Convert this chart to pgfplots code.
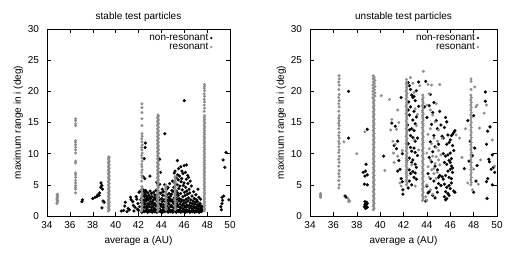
\documentclass[border=0pt]{standalone}
\usepackage{fontspec}
\setmainfont{Liberation Sans}
\usepackage{pgfplots}
\pgfplotsset{compat=1.18}
\definecolor{resgray}{RGB}{140,140,140}
\pgfplotsset{
  myax/.style={
    scale only axis, height=187pt,
    xmin=34, xmax=50, ymin=0, ymax=30,
    xtick={34,36,...,50}, ytick={0,5,...,30},
    tick align=inside, major tick length=4pt,
    tick style={black, line width=0.5pt},
    axis line style={line width=0.6pt},
    font=\fontsize{10}{11}\selectfont,
    /pgf/number format/assume math mode=true,
    xticklabel style={yshift=-2pt},
    yticklabel style={xshift=-4.5pt},
    xlabel={average a (AU)}, ylabel={maximum range in i (deg)},
    xlabel style={yshift=-1pt},
    ylabel style={yshift=-2pt},
    title style={yshift=-2pt},
    legend style={draw=none, fill=none, font=\fontsize{10}{11}\selectfont, at={(0.91,0.99)}, anchor=north east, row sep=-3pt, inner sep=1pt},
    legend cell align=right, legend plot pos=right,
    clip=false,
  },
  legimg/.style={legend image code/.code={\draw[mark repeat=2,mark phase=2,mark size=1pt] plot coordinates {(0cm,0cm)(0.55cm,0cm)(0.6cm,0cm)};}},
  nonres/.style={only marks, mark=*, mark size=1.5pt, mark options={solid, draw=black, fill=black, line width=0.2pt}, legimg},
  res/.style={only marks, mark=*, mark size=1.4pt, mark options={solid, draw=resgray, fill=resgray, line width=0.2pt}, legimg},
}
\begin{document}
\begin{tikzpicture}
\useasboundingbox (0,0) rectangle (521pt,254pt);
% ---------------- stable ----------------
\begin{axis}[myax, at={(47pt,38pt)}, anchor=south west, width=183pt, title={stable test particles}]
\addplot[nonres] coordinates {
(37.05,2.3)(37.1,2.6)(38.0,2.8)(38.2,3.0)(38.35,3.1)(38.45,3.4)(38.55,3.3)(38.6,3.7)(38.7,4.6)(38.72,5.3)(38.8,4.9)(38.85,4.3)(38.9,2.4)(38.8,1.3)(39.0,2.2)
(40.5,0.8)(40.7,0.9)(40.8,1.6)(40.85,2.2)(41.0,0.7)(41.1,1.2)(41.2,1.0)(41.3,3.0)(41.35,2.6)(41.5,2.3)(41.55,1.7)(41.6,0.8)(41.7,1.4)(41.8,3.1)(41.85,2.7)(41.9,1.1)(41.95,2.0)(42.0,0.9)(42.05,3.8)(42.1,1.5)(42.15,4.0)(42.2,2.6)
(42.3,0.6)(42.33,1.3)(42.27,2.1)(42.32,3.0)(42.28,3.9)
(42.42,0.9)(42.37,1.7)(42.44,2.5)(42.38,3.4)(42.41,4.2)(42.4,6.3)
(42.5,0.7)(42.53,1.4)(42.47,2.2)(42.52,3.1)(42.48,3.8)(42.5,9.2)
(42.55,6.0)(42.58,11.0)(42.6,11.7)
(42.63,0.8)(42.57,1.9)(42.62,2.7)(42.58,3.5)(42.61,4.1)
(42.7,1.1)(42.74,1.6)(42.67,2.4)(42.72,3.2)(42.68,3.9)
(42.8,0.6)(42.77,1.3)(42.83,2.0)(42.78,2.9)(42.82,3.7)
(42.9,0.9)(42.93,1.8)(42.87,2.6)(42.92,3.3)
(43.0,0.7)(42.97,1.5)(43.03,2.3)(42.98,3.0)(43.02,4.0)(43.0,6.4)
(43.1,1.0)(43.13,1.9)(43.07,2.8)(43.12,3.6)
(43.2,0.6)(43.17,1.4)(43.23,2.2)(43.18,3.1)
(43.3,0.9)(43.33,1.7)(43.27,2.5)(43.32,3.8)
(43.4,0.7)(43.37,1.2)(43.43,2.0)(43.38,2.9)(43.42,3.4)
(43.5,1.0)(43.53,1.8)(43.47,2.7)(43.52,4.1)
(43.6,0.6)(43.57,1.5)(43.63,2.4)(43.58,3.2)(43.6,5.4)
(43.75,0.8)(43.78,2.0)(43.75,3.0)
(43.85,1.1)(43.82,2.6)(43.87,3.6)(43.85,9.1)(43.85,5.1)
(43.9,0.7)(43.93,1.6)(43.92,7.0)
(44.0,0.9)(43.97,1.9)(44.03,2.8)(43.98,3.7)
(44.1,0.6)(44.13,1.4)(44.07,2.3)(44.12,3.3)(44.08,4.3)
(44.2,1.0)(44.17,1.8)(44.23,2.6)(44.18,3.9)
(44.3,0.7)(44.33,1.5)(44.27,2.4)(44.3,13.2)(44.3,5.0)
(44.4,1.1)(44.43,2.1)(44.37,3.2)
(44.5,0.8)(44.47,1.6)(44.53,2.5)(44.48,3.4)(44.52,4.4)
(44.6,0.6)(44.63,1.3)(44.57,2.2)(44.62,3.0)(44.58,4.6)
(44.7,1.0)(44.67,1.9)(44.73,2.7)(44.68,3.6)(44.72,5.2)
(44.8,0.7)(44.83,1.5)(44.77,2.4)(44.82,3.2)
(44.9,0.9)(44.87,1.7)(44.93,2.6)(44.88,3.5)(44.92,4.1)
(45.0,0.6)(45.03,1.4)(44.97,2.3)(45.02,3.9)(44.98,5.6)
(45.1,1.0)(45.07,2.0)(45.13,2.9)(45.08,4.6)(45.12,6.9)
(45.2,0.8)(45.23,1.6)(45.17,2.5)(45.22,3.4)(45.18,5.3)(45.2,7.2)
(45.3,0.6)(45.27,1.3)(45.33,2.1)(45.28,3.0)(45.32,4.0)(45.3,6.1)
(45.4,0.9)(45.43,1.8)(45.37,2.7)(45.42,3.7)(45.38,5.0)(45.4,8.9)(45.42,6.6)
(45.5,0.7)(45.47,1.5)(45.53,2.4)(45.48,3.3)(45.52,4.4)(45.48,5.8)(45.5,7.6)
(45.6,1.0)(45.63,1.9)(45.57,2.8)(45.62,4.8)(45.58,6.4)
(45.7,0.6)(45.67,1.4)(45.73,2.3)(45.68,3.6)(45.72,5.5)(45.7,7.9)
(45.8,0.8)(45.83,1.7)(45.77,2.6)(45.82,4.2)(45.78,6.0)(45.8,7.2)
(45.9,0.7)(45.87,1.2)(45.93,2.0)(45.88,3.1)(45.92,4.9)(45.9,6.8)
(46.0,0.9)(46.03,1.6)(45.97,2.5)(46.02,3.8)(45.98,5.3)(46.0,8.1)(46.0,18.5)
(46.1,0.6)(46.07,1.4)(46.13,2.2)(46.08,3.3)(46.12,4.6)(46.1,7.0)
(46.2,1.0)(46.23,1.8)(46.17,2.7)(46.22,4.0)(46.18,5.9)(46.2,8.2)
(46.3,0.7)(46.27,1.5)(46.33,2.4)(46.28,3.5)(46.32,5.2)(46.3,6.5)
(46.4,0.9)(46.43,1.7)(46.37,2.9)(46.42,4.3)(46.38,6.2)
(46.5,0.6)(46.47,1.3)(46.53,2.1)(46.48,3.7)(46.52,5.6)
(46.6,0.8)(46.63,1.6)(46.57,2.6)(46.62,4.8)
(46.7,0.7)(46.67,1.2)(46.73,2.0)(46.68,3.2)
(46.8,0.9)(46.83,1.5)(46.77,2.4)(46.82,3.9)
(46.9,0.6)(46.87,1.3)(46.93,1.9)(46.88,2.8)
(47.0,0.8)(47.03,1.4)(46.97,2.2)(47.02,3.4)
(47.1,0.7)(47.07,1.2)(47.13,1.8)(47.08,2.6)
(47.2,0.9)(47.23,1.5)(47.17,2.3)(47.2,4.3)
(47.3,0.6)(47.27,1.1)(47.33,1.7)(47.28,3.0)
(47.4,0.8)(47.43,1.3)(47.37,2.0)(47.42,2.7)
(47.5,0.7)(47.47,1.0)(47.53,1.6)
(47.6,0.9)(47.57,1.4)
(49.25,1.0)(49.2,1.5)(49.3,2.0)(49.35,2.5)(49.3,3.0)(49.45,3.2)(49.4,9.0)(49.55,7.8)(49.65,10.2)(49.9,2.6)
};
\addlegendentry{non-resonant}
\addplot[res] coordinates {
(34.86,2.0)(34.92,2.2)(34.88,2.4)(34.94,2.5)(34.86,2.7)(34.92,2.9)(34.88,3.0)(34.94,3.2)(34.88,3.4)(34.92,3.5)
(36.5,3.7)(36.5,4.3)(36.5,4.6)(36.5,4.9)(36.5,5.3)(36.5,5.7)(36.5,6.2)(36.5,6.6)(36.5,6.9)(36.5,8.5)(36.5,8.8)(36.5,10.1)(36.5,10.6)(36.5,11.0)(36.5,11.4)(36.5,11.8)(36.5,12.1)(36.5,14.5)(36.5,14.8)(36.5,15.3)(36.5,15.6)
(39.36,0.8)(39.44,1.0)(39.40,1.2)(39.36,1.4)(39.44,1.6)(39.40,1.8)(39.36,2.0)(39.44,2.2)(39.40,2.4)(39.36,2.6)(39.44,2.8)(39.40,3.0)(39.36,3.2)(39.44,3.4)(39.40,3.6)(39.36,3.8)(39.44,4.0)(39.40,4.2)(39.36,4.4)(39.44,4.6)(39.40,4.8)(39.36,5.0)(39.44,5.2)(39.40,5.4)(39.36,5.6)(39.44,5.8)(39.40,6.0)(39.36,6.2)(39.44,6.4)(39.40,6.6)(39.36,6.8)(39.44,7.0)(39.40,7.2)(39.36,7.4)(39.44,7.6)(39.40,7.8)(39.36,8.0)(39.44,8.2)(39.40,8.4)(39.36,8.6)(39.44,8.8)(39.40,9.0)(39.36,9.2)(39.44,9.4)(39.40,9.5)
(42.28,0.8)(42.32,1.1)(42.26,1.4)(42.34,1.7)(42.28,2.0)(42.32,2.3)(42.26,2.6)(42.34,2.9)(42.28,3.2)(42.32,3.5)(42.30,3.8)(42.28,4.1)(42.32,4.4)(42.30,4.7)(42.28,5.6)(42.32,6.2)(42.30,6.5)(42.28,7.0)(42.32,7.4)(42.30,7.9)(42.28,8.3)(42.32,8.8)(42.30,9.3)(42.28,9.7)(42.32,10.1)(42.30,10.6)(42.28,11.0)(42.32,11.4)(42.30,11.9)(42.28,12.4)(42.32,12.8)(42.30,13.2)(42.30,14.5)(42.30,15.6)(42.30,16.6)(42.30,17.4)(42.30,18.0)
(43.66,0.8)(43.74,1.0)(43.70,1.2)(43.66,1.4)(43.74,1.6)(43.70,1.8)(43.66,2.0)(43.74,2.2)(43.70,2.4)(43.66,2.6)(43.74,2.8)(43.70,3.0)(43.66,3.2)(43.74,3.4)(43.70,3.6)(43.66,3.8)(43.74,4.0)(43.70,4.2)(43.66,4.4)(43.74,4.6)(43.70,4.8)(43.66,5.0)(43.74,5.2)(43.70,5.4)(43.66,5.6)(43.74,5.8)(43.70,6.0)(43.66,6.2)(43.74,6.4)(43.70,6.6)(43.66,6.8)(43.74,7.0)(43.70,7.2)(43.66,7.4)(43.74,7.6)(43.70,7.8)(43.66,8.0)(43.74,8.2)(43.70,8.4)(43.66,8.6)(43.74,8.8)(43.70,9.0)(43.66,9.2)(43.74,9.4)(43.70,9.6)(43.66,9.8)(43.74,10.0)(43.70,10.2)(43.66,10.4)(43.74,10.6)(43.70,10.8)(43.66,11.0)(43.74,11.2)(43.70,11.4)(43.66,11.6)(43.74,11.8)(43.70,12.0)(43.66,12.2)(43.74,12.4)(43.70,12.6)(43.66,12.8)(43.74,13.0)(43.70,13.2)(43.66,13.4)(43.74,13.6)(43.70,13.8)(43.66,14.0)(43.74,14.2)(43.70,14.4)(43.66,14.6)(43.74,14.8)(43.70,15.0)(43.66,15.2)(43.74,15.4)(43.70,15.6)(43.66,15.8)(43.74,16.0)(43.70,16.2)
(44.4,1.0)(44.42,1.3)(44.38,1.6)(44.4,1.9)(44.42,2.2)(44.38,2.5)(44.4,2.8)(44.42,3.1)(44.38,3.4)(44.4,3.7)(44.42,4.0)(44.38,4.3)(44.4,4.6)(44.4,4.9)
(45.2,1.0)(45.22,1.3)(45.18,1.6)(45.2,1.9)(45.22,2.2)(45.18,2.5)(45.2,2.8)(45.22,3.1)(45.18,3.4)(45.2,3.7)(45.22,4.0)(45.18,4.3)(45.2,4.6)(45.22,4.9)(45.18,5.2)(45.2,5.5)(45.22,5.8)(45.2,6.1)(45.2,6.3)
(47.74,0.8)(47.78,1.1)(47.74,1.4)(47.78,1.7)(47.74,2.0)(47.78,2.3)(47.74,2.6)(47.78,2.9)(47.74,3.2)(47.78,3.5)(47.74,3.8)(47.78,4.1)(47.74,4.4)(47.78,4.7)(47.74,5.0)(47.78,5.3)(47.74,5.6)(47.78,5.9)(47.74,6.2)(47.78,6.5)(47.74,6.8)(47.78,7.1)(47.74,7.4)(47.78,7.7)(47.74,8.0)(47.78,8.3)(47.74,8.6)(47.78,8.9)(47.74,9.2)(47.78,9.5)(47.74,9.8)(47.78,10.1)(47.74,10.4)(47.78,10.7)(47.74,11.0)(47.78,11.3)(47.74,11.6)(47.78,11.9)(47.74,12.2)(47.78,12.5)(47.74,12.8)(47.78,13.1)(47.74,13.4)(47.78,13.7)(47.74,14.0)(47.78,14.3)(47.74,14.6)(47.78,14.9)(47.74,15.2)(47.78,15.5)(47.74,15.8)(47.78,16.1)(47.74,16.8)(47.78,17.3)(47.74,17.8)(47.78,18.3)(47.74,18.7)(47.78,19.2)(47.74,19.6)(47.78,20.1)(47.74,20.5)(47.78,20.8)(47.76,21.1)
};
\addlegendentry{resonant}
\end{axis}
% ---------------- unstable ----------------
\begin{axis}[myax, at={(310pt,38pt)}, anchor=south west, width=187pt, title={unstable test particles}]
\addplot[nonres] coordinates {
(37.0,3.2)(37.1,3.0)(37.3,20.0)(37.3,12.5)
(38.65,1.5)(38.7,1.8)(38.75,2.0)(38.8,1.6)(38.85,2.2)(38.9,1.4)(38.7,2.3)(38.8,1.9)(38.9,2.0)(38.75,1.2)
(38.65,5.1)(38.9,5.0)(38.7,6.4)(38.9,6.6)(38.75,7.2)(38.8,8.3)(38.9,13.9)(38.55,7.0)
(40.3,9.6)
(41.0,14.9)(41.3,14.4)(41.2,11.3)(41.4,10.8)(41.5,12.0)(41.7,7.5)(41.8,6.0)(41.9,5.5)(41.95,4.2)(41.95,3.5)(41.8,19.0)(41.6,8.9)(41.9,10.0)(41.5,7.2)
(42.4,21.4)(42.5,20.9)(42.6,20.3)(42.7,19.4)(42.8,19.0)(42.9,19.2)(43.0,18.5)(43.1,20.1)(43.3,21.5)
(42.4,17.0)(42.5,16.2)(42.6,17.5)(42.8,15.4)(42.9,16.8)(43.0,14.8)(43.1,15.9)(42.7,14.0)(42.5,13.8)(42.6,12.9)(42.8,12.6)(42.9,13.7)(43.0,12.0)(43.2,12.5)(42.4,11.6)(42.6,11.0)(42.7,10.4)(42.9,10.9)(43.0,10.2)(43.2,9.7)(42.5,9.3)(42.7,8.6)(42.8,9.0)(43.0,8.3)(43.1,7.8)(42.5,7.4)(42.6,6.8)(42.8,7.1)(42.9,6.2)(43.1,5.9)(42.5,5.6)(42.7,5.0)(42.4,4.5)(43.0,6.9)(42.35,14.6)(42.45,18.3)(43.3,17.6)(42.3,8.9)
(43.9,21.6)(43.8,17.5)(44.3,19.5)(44.6,18.2)(44.2,17.7)(44.5,16.6)(44.0,15.8)(44.8,15.3)(44.4,14.7)(44.9,14.0)(45.1,16.8)(45.0,11.5)(44.6,12.9)(44.3,11.9)(44.7,11.1)(44.5,10.3)(44.2,9.4)(44.4,8.7)(44.7,8.0)(44.9,7.4)(44.1,6.8)(44.3,6.0)(44.6,5.6)(44.0,4.8)(44.2,3.9)(44.5,3.3)(44.8,4.5)(43.9,2.4)(44.1,3.7)(44.7,2.9)(45.0,5.2)(44.9,3.8)(45.0,6.2)
(45.4,12.5)(45.6,15.8)(45.7,15.1)(45.5,14.2)(45.8,13.0)(46.0,12.2)(46.1,12.9)(46.2,13.1)(46.3,13.4)(46.4,13.7)(45.9,11.8)(45.4,10.0)(45.6,9.6)(45.8,9.8)(46.0,10.1)(46.1,9.2)(45.5,8.6)(45.7,8.3)(45.9,8.9)(46.1,8.0)(46.0,7.5)(45.8,7.2)(46.2,7.0)(45.6,6.5)(45.9,6.2)(46.1,6.0)(45.3,6.3)(45.4,5.9)(45.5,5.1)(45.7,4.6)(45.9,4.9)(46.1,5.3)(46.3,4.0)(46.4,3.8)(45.6,3.9)(45.8,3.6)(45.5,3.1)(45.7,2.8)(45.9,3.3)(45.6,2.6)(46.0,4.4)(45.3,12.8)(46.2,11.3)(46.2,7.7)(46.0,8.6)(45.7,11.5)(45.2,4.9)(45.1,6.5)(45.2,14.6)(46.3,10.5)
(47.2,7.6)(47.5,15.3)(47.6,8.8)(47.9,9.7)(48.0,3.8)(48.2,5.6)(48.3,8.1)(47.7,12.0)(48.0,16.1)(48.1,10.9)
(49.0,19.9)(49.0,18.4)(49.1,11.5)(49.2,13.6)(49.4,14.3)(49.3,9.1)(49.35,8.7)(49.6,9.8)(49.7,7.8)(49.8,7.0)(49.1,5.5)(49.2,6.0)(49.15,2.8)(49.5,7.5)(49.6,5.0)
};
\addlegendentry{non-resonant}
\addplot[res] coordinates {
(34.9,3.0)(34.9,3.2)(34.9,3.4)(34.9,3.6)
(36.46,4.5)(36.5,5.0)(36.46,5.7)(36.5,6.3)(36.46,6.8)(36.5,7.3)(36.46,8.0)(36.5,8.6)(36.46,9.1)(36.5,9.6)(36.46,10.2)(36.5,10.6)(36.46,11.1)(36.5,11.6)(36.46,12.0)(36.5,12.5)(36.46,12.9)(36.5,13.4)(36.46,14.0)(36.5,14.5)(36.46,14.9)(36.5,15.3)(36.46,15.7)(36.5,16.1)(36.46,16.8)(36.5,17.5)(36.46,18.0)(36.5,18.5)(36.46,19.0)(36.5,19.5)(36.46,20.3)(36.5,21.0)(36.46,21.5)(36.5,22.0)(36.48,22.5)
(37.3,2.3)(37.35,2.5)(37.25,2.8)(37.4,2.4)(36.9,11.9)(38.7,13.5)(38.0,10.0)
(39.42,1.0)(39.48,1.25)(39.45,1.5)(39.42,1.75)(39.48,2.0)(39.45,2.25)(39.42,2.5)(39.48,2.75)(39.45,3.0)(39.42,3.25)(39.48,3.5)(39.45,3.75)(39.42,4.0)(39.48,4.25)(39.45,4.5)(39.42,4.75)(39.48,5.0)(39.45,5.25)(39.42,5.5)(39.48,5.75)(39.45,6.0)(39.42,6.25)(39.48,6.5)(39.45,6.75)(39.42,7.0)(39.48,7.25)(39.45,7.5)(39.42,7.75)(39.48,8.0)(39.45,8.25)(39.42,8.5)(39.48,8.75)(39.45,9.0)(39.42,9.25)(39.48,9.5)(39.45,9.75)(39.42,10.0)(39.48,10.25)(39.45,10.5)(39.42,10.75)(39.48,11.0)(39.45,11.25)(39.42,11.5)(39.48,11.75)(39.45,12.0)(39.42,12.25)(39.48,12.5)(39.45,12.75)(39.42,13.0)(39.48,13.25)(39.45,13.5)(39.42,13.75)(39.48,14.0)(39.45,14.25)(39.42,14.5)(39.48,14.75)(39.45,15.0)(39.42,15.25)(39.48,15.5)(39.45,15.75)(39.42,16.0)(39.48,16.25)(39.45,16.5)(39.42,16.75)(39.48,17.0)(39.45,17.25)(39.42,17.5)(39.48,17.75)(39.45,18.0)(39.42,18.25)(39.48,18.5)(39.45,18.75)(39.38,19.0)(39.55,19.25)(39.4,19.5)(39.55,19.75)(39.38,20.0)(39.52,20.25)(39.4,20.5)(39.55,20.75)(39.38,21.0)(39.52,21.25)(39.42,21.5)(39.55,21.75)(39.4,22.0)(39.5,22.2)(39.4,22.5)
(40.1,19.3)(40.4,7.3)(40.8,18.7)(41.0,15.5)(41.1,12.0)(41.15,10.1)(41.2,8.6)(41.4,13.9)(41.5,9.6)(41.5,17.0)(41.6,15.0)(41.7,5.3)(41.8,4.8)(41.9,10.5)(41.3,11.5)(40.9,13.8)
(42.25,5.0)(42.3,5.3)(42.22,5.6)(42.28,5.9)(42.25,6.2)(42.3,6.5)(42.22,6.8)(42.28,7.1)(42.25,7.4)(42.3,7.7)(42.22,8.0)(42.28,8.3)(42.25,8.6)(42.3,8.9)(42.22,9.2)(42.28,9.5)(42.25,9.8)(42.3,10.1)(42.22,10.4)(42.28,10.7)(42.25,11.0)(42.3,11.3)(42.22,11.6)(42.28,11.9)(42.25,12.2)(42.3,12.5)(42.22,12.8)(42.28,13.1)(42.25,13.4)(42.3,13.7)(42.22,14.0)(42.28,14.3)(42.25,14.6)(42.3,14.9)(42.22,15.2)(42.28,15.5)(42.25,15.8)(42.3,16.1)(42.22,16.4)(42.28,16.7)(42.25,17.0)(42.3,17.3)(42.22,17.6)(42.28,17.9)(42.25,18.2)(42.3,18.5)(42.22,18.8)(42.28,19.1)(42.25,19.4)(42.3,19.7)(42.22,20.0)(42.28,20.3)(42.25,20.6)(42.3,20.9)(42.22,21.2)(42.28,21.5)(42.25,21.9)
(42.6,22.2)(42.8,21.3)(43.0,17.2)(43.2,16.3)(43.1,14.5)(42.9,12.3)(43.3,10.6)(42.9,19.8)(43.4,20.9)(43.0,4.8)(42.7,8.2)
(43.62,2.5)(43.68,2.8)(43.65,3.1)(43.62,3.4)(43.68,3.7)(43.65,4.0)(43.62,4.3)(43.68,4.6)(43.65,4.9)(43.62,5.2)(43.68,5.5)(43.65,5.8)(43.62,6.1)(43.68,6.4)(43.65,6.7)(43.62,7.0)(43.68,7.3)(43.65,7.6)(43.62,7.9)(43.68,8.2)(43.65,8.5)(43.62,8.8)(43.68,9.1)(43.65,9.4)(43.62,9.7)(43.68,10.0)(43.65,10.3)(43.62,10.6)(43.68,10.9)(43.65,11.2)(43.62,11.5)(43.68,11.8)(43.65,12.1)(43.62,12.4)(43.68,12.7)(43.65,13.0)(43.62,13.3)(43.68,13.6)(43.65,13.9)(43.62,14.2)(43.68,14.5)(43.65,14.8)(43.62,15.1)(43.68,15.4)(43.65,15.7)(43.62,16.0)(43.68,16.3)(43.65,16.6)(43.62,16.9)(43.68,17.2)(43.65,17.5)(43.62,17.8)(43.68,18.1)(43.65,18.4)(43.62,18.7)(43.68,19.0)(43.65,19.4)
(43.7,23.2)(44.1,21.1)(44.4,21.0)(45.1,21.1)(44.2,19.6)(44.0,17.8)(44.3,17.0)(44.5,16.2)(44.7,15.1)(44.3,14.0)(44.1,13.1)(44.6,12.5)(44.4,11.6)(44.2,10.8)(44.0,10.1)(44.5,9.6)(44.3,9.0)(44.7,8.4)(44.1,7.9)(44.4,7.4)(44.6,6.8)(44.2,6.2)(44.0,5.0)(44.3,4.2)(44.5,3.5)(44.8,11.0)(45.0,9.0)(44.9,7.0)(45.1,8.2)(45.3,12.5)(45.0,13.8)(44.8,18.0)(44.0,2.5)(43.9,3.1)(44.8,9.5)(45.0,10.5)(44.9,12.0)(45.2,9.8)(44.6,7.6)(44.8,6.0)
(47.76,5.0)(47.8,5.4)(47.76,5.8)(47.8,6.2)(47.76,6.6)(47.8,7.0)(47.76,7.4)(47.8,7.8)(47.76,8.2)(47.8,8.6)(47.76,9.0)(47.8,9.4)(47.76,9.8)(47.8,10.2)(47.76,10.6)(47.8,11.0)(47.76,11.4)(47.8,11.8)(47.76,12.2)(47.8,12.6)(47.76,13.0)(47.8,13.4)(47.76,13.8)(47.8,14.2)(47.76,14.6)(47.8,15.0)(47.76,15.4)(47.8,15.8)(47.76,16.2)(47.8,16.6)(47.76,17.0)(47.8,17.4)(47.76,17.8)(47.8,18.2)(47.76,18.6)(47.8,19.0)(47.76,19.4)(47.78,20.3)(47.78,21.6)(47.78,22.0)
(46.8,12.5)(47.3,14.0)(48.1,20.7)(48.3,17.8)(48.2,17.5)(48.5,14.1)(48.9,16.5)(49.1,17.8)(49.6,12.2)(49.8,8.0)(48.4,5.1)(47.9,4.2)(47.5,5.3)(48.0,7.5)(48.6,9.0)(46.5,13.0)(47.0,9.4)
};
\addlegendentry{resonant}
\end{axis}
\end{tikzpicture}
\end{document}
